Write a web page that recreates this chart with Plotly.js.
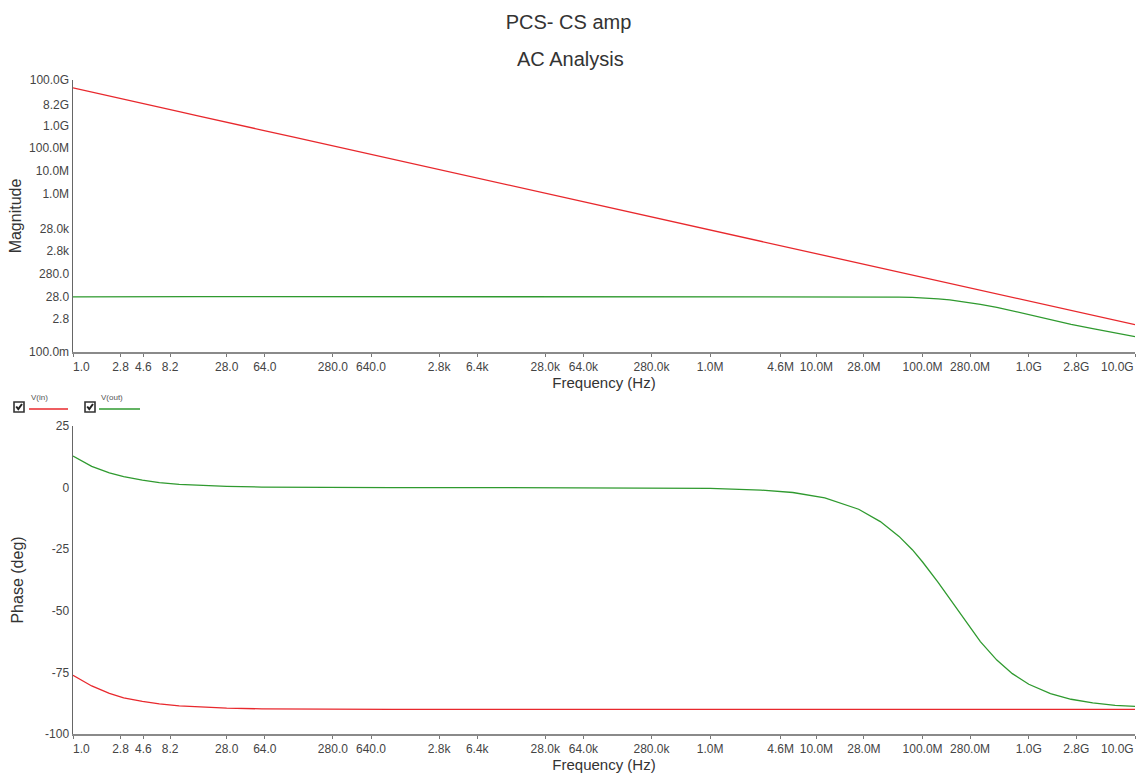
<!DOCTYPE html>
<html>
<head>
<meta charset="utf-8">
<script src="https://cdn.plot.ly/plotly-3.0.1.min.js"></script>
<style>html,body{margin:0;padding:0;background:#fff;}#chart{width:1137px;height:773px;}</style>
</head>
<body>
<div id="chart"></div>
<script>
// Frequency points (Hz)
const freq = [1, 1.5, 2.2, 3, 4.5, 6.5, 10, 15, 28, 60, 120, 1e3, 1e4, 1e5, 1e6, 3e6, 6e6, 1.2e7, 2.5e7, 4e7, 6e7, 8e7, 1e8, 1.4e8, 1.8e8, 2.5e8, 3.5e8, 5e8, 7e8, 1e9, 1.6e9, 2.5e9, 4e9, 6.5e9, 1e10];

// Magnitude
const magIn = [4.5e10, 2.9e10, 2.0e10, 1.4e10, 9.3e9, 6.3e9, 4.0e9, 2.6e9, 1.4e9, 6.2e8, 3.0e8, 3.3e7, 3.0e6, 2.7e5, 2.4e4, 7.7e3, 3.7e3, 1.8e3, 850, 520, 340, 250, 200, 140, 108, 76, 54, 37, 26, 18, 11, 6.9, 4.2, 2.5, 1.6];
const magOut = [27.3, 27.7, 27.9, 28, 28, 28, 28, 28, 28, 28, 28, 28, 28, 28, 28, 28, 28, 27.9, 27.7, 27.3, 26.5, 25.5, 24.4, 22, 19.8, 16.3, 12.7, 9.4, 6.6, 4.6, 2.6, 1.65, 1.08, 0.72, 0.48];

// Phase (deg)
const phIn = [-76.2, -80.5, -83.5, -85.3, -86.8, -87.8, -88.6, -89.0, -89.5, -89.8, -89.9, -90, -90, -90, -90, -90, -90, -90, -90, -90, -90, -90, -90, -90, -90, -90, -90, -90, -90, -90, -90, -90, -90, -90, -90];
const phOut = [12.8, 8.6, 6.0, 4.4, 3.0, 2.0, 1.3, 0.9, 0.5, 0.2, 0.1, 0, 0, 0, -0.3, -1.0, -2.0, -4.2, -8.8, -13.8, -19.8, -25.2, -30.2, -38.5, -45, -54, -62.5, -70, -75.5, -79.8, -83.6, -85.9, -87.4, -88.4, -88.8];

// Tick labels
const xTickVals = [1, 2.8, 4.6, 8.2, 28, 64, 280, 640, 2800, 6400, 28000, 64000, 280000, 1e6, 4.6e6, 1e7, 2.8e7, 1e8, 2.8e8, 1e9, 2.8e9, 1e10];
const xTickText = ['1.0', '2.8', '4.6', '8.2', '28.0', '64.0', '280.0', '640.0', '2.8k', '6.4k', '28.0k', '64.0k', '280.0k', '1.0M', '4.6M', '10.0M', '28.0M', '100.0M', '280.0M', '1.0G', '2.8G', '10.0G'];
const magTickVals = [1e11, 8.2e9, 1e9, 1e8, 1e7, 1e6, 2.8e4, 2800, 280, 28, 2.8, 0.1];
const magTickText = ['100.0G', '8.2G', '1.0G', '100.0M', '10.0M', '1.0M', '28.0k', '2.8k', '280.0', '28.0', '2.8', '100.0m'];
const phTickVals = [25, 0, -25, -50, -75, -100];
const phTickText = ['25', '0', '-25', '-50', '-75', '-100'];

const seriesNames = ['V(in)', 'V(out)'];
const RED = '#e8282d';
const GREEN = '#2f9a2f';

const NB = '\u00a0';
const lastIdx = xTickText.length - 1;
// first label starts at the axis; the last one is drawn right-aligned at the plot's right edge
const xText = xTickText.map((t, i) => {
  if (i === 0) return NB.repeat(5) + t;
  if (i === lastIdx) return '';
  return t;
});

const FONT = 'Arial, "Liberation Sans", sans-serif';
const TICKFONT = {family: FONT, size: 12, color: '#444'};

const traces = [
  {x: freq, y: magIn, xaxis: 'x', yaxis: 'y', mode: 'lines', name: seriesNames[0], line: {color: RED, width: 1.3}},
  {x: freq, y: magOut, xaxis: 'x', yaxis: 'y', mode: 'lines', name: seriesNames[1], line: {color: GREEN, width: 1.3}},
  {x: freq, y: phIn, xaxis: 'x2', yaxis: 'y2', mode: 'lines', name: seriesNames[0], line: {color: RED, width: 1.3}},
  {x: freq, y: phOut, xaxis: 'x2', yaxis: 'y2', mode: 'lines', name: seriesNames[1], line: {color: GREEN, width: 1.3}}
];

const xCommon = {
  type: 'log', range: [0, 10],
  tickmode: 'array', tickvals: xTickVals, ticktext: xText,
  ticks: 'outside', ticklen: 3, tickcolor: '#777',
  showline: true, linecolor: '#8a8a8a', linewidth: 2,
  showgrid: false, zeroline: false,
  tickfont: TICKFONT,
  title: {text: 'Frequency (Hz)', font: {family: FONT, size: 15, color: '#333'}, standoff: 4}
};

const yCommon = {
  showline: true, linecolor: '#666', linewidth: 1.5,
  showgrid: false, zeroline: false, ticks: '',
  tickmode: 'array',
  tickfont: TICKFONT
};

function boxShapes(px) {
  return [
    {type: 'rect', xref: 'paper', yref: 'paper', xsizemode: 'pixel', ysizemode: 'pixel',
     xanchor: 0, yanchor: 0, x0: px, x1: px + 10, y0: 322, y1: 332,
     line: {color: '#333', width: 1.6}, fillcolor: '#fff'},
    {type: 'path', xref: 'paper', yref: 'paper', xsizemode: 'pixel', ysizemode: 'pixel',
     xanchor: 0, yanchor: 0,
     path: `M ${px + 2.2},${327.5} L ${px + 4.3},${324.8} L ${px + 8},${330}`,
     line: {color: '#222', width: 2}}
  ];
}

const shapes = [].concat(
  boxShapes(-59),
  [{type: 'line', xref: 'paper', yref: 'paper', xsizemode: 'pixel', ysizemode: 'pixel',
    xanchor: 0, yanchor: 0, x0: -44, x1: -5, y0: 325, y1: 325, line: {color: RED, width: 1.3}}],
  boxShapes(12),
  [{type: 'line', xref: 'paper', yref: 'paper', xsizemode: 'pixel', ysizemode: 'pixel',
    xanchor: 0, yanchor: 0, x0: 26, x1: 67, y0: 325, y1: 325, line: {color: GREEN, width: 1.3}}]
);

const layout = {
  width: 1137, height: 773,
  margin: {l: 73, r: 2, t: 80, b: 39},
  paper_bgcolor: '#fff', plot_bgcolor: '#fff',
  showlegend: false,
  font: {family: FONT},
  title: {text: 'PCS- CS amp', x: 0.5, xref: 'container', y: 0.971, yref: 'container', yanchor: 'middle',
          font: {family: FONT, size: 20, color: '#333'}},
  xaxis: Object.assign({}, xCommon, {domain: [0, 1], anchor: 'y'}),
  yaxis: Object.assign({}, yCommon, {type: 'log', range: [-1, 11], domain: [0.5841, 1], anchor: 'x',
    tickvals: magTickVals, ticktext: magTickText,
    title: {text: 'Magnitude', font: {family: FONT, size: 16, color: '#333'}, standoff: 3}}),
  xaxis2: Object.assign({}, xCommon, {domain: [0, 1], anchor: 'y2'}),
  yaxis2: Object.assign({}, yCommon, {range: [-100, 25], domain: [0, 0.471], anchor: 'x2',
    tickvals: phTickVals, ticktext: phTickText,
    title: {text: 'Phase (deg)', font: {family: FONT, size: 16, color: '#333'}, standoff: 17}}),
  annotations: [
    {text: 'AC Analysis', xref: 'paper', yref: 'paper', x: 0.468, y: 1.032, xanchor: 'center', yanchor: 'middle',
     showarrow: false, font: {family: FONT, size: 20, color: '#333'}},
    {text: xTickText[lastIdx], xref: 'paper', yref: 'paper', x: 1, y: 0.5612, xanchor: 'right', yanchor: 'middle',
     showarrow: false, font: TICKFONT, borderpad: 0},
    {text: xTickText[lastIdx], xref: 'paper', yref: 'paper', x: 1, y: -0.0229, xanchor: 'right', yanchor: 'middle',
     showarrow: false, font: TICKFONT, borderpad: 0},
    {text: seriesNames[0], xref: 'paper', yref: 'paper', x: -0.0414, y: 0.5138, xanchor: 'left', yanchor: 'middle',
     showarrow: false, font: {family: FONT, size: 8, color: '#555'}},
    {text: seriesNames[1], xref: 'paper', yref: 'paper', x: 0.0245, y: 0.5138, xanchor: 'left', yanchor: 'middle',
     showarrow: false, font: {family: FONT, size: 8, color: '#555'}}
  ],
  shapes: shapes
};

Plotly.newPlot('chart', traces, layout, {displayModeBar: false, staticPlot: true});
</script>
</body>
</html>
